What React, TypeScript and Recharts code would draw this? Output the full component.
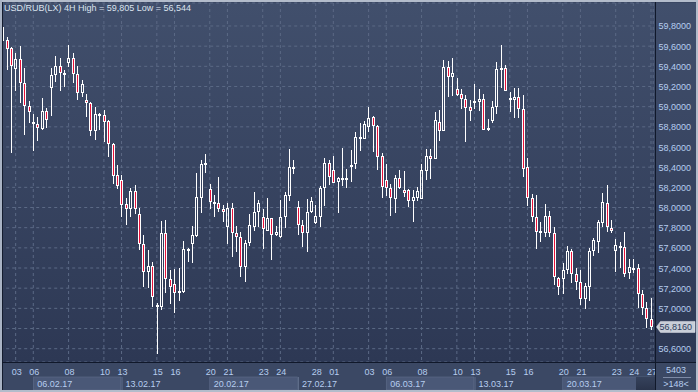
import React from 'react';
import { ComposedChart, Bar, XAxis, YAxis, CartesianGrid, ReferenceLine } from 'recharts';

const days = ['02.02.17','03.02.17','06.02.17','07.02.17','08.02.17','09.02.17','10.02.17','13.02.17','14.02.17','15.02.17','16.02.17','17.02.17','20.02.17','21.02.17','22.02.17','23.02.17','24.02.17','27.02.17','28.02.17','01.03.17','02.03.17','03.03.17','06.03.17','07.03.17','08.03.17','09.03.17','10.03.17','13.03.17','14.03.17','15.03.17','16.03.17','17.03.17','20.03.17','21.03.17','22.03.17','23.03.17','24.03.17','27.03.17'];
const labelledDays = ['03.02.17','06.02.17','08.02.17','10.02.17','13.02.17','15.02.17','16.02.17','20.02.17','21.02.17','23.02.17','24.02.17','28.02.17','01.03.17','03.03.17','06.03.17','08.03.17','10.03.17','13.03.17','15.03.17','16.03.17','20.03.17','21.03.17','23.03.17','24.03.17','27.03.17'];
const weekStarts = ['06.02.17','13.02.17','20.02.17','27.02.17','06.03.17','13.03.17','20.03.17'];
const priceTicks = [56.6,56.8,57.0,57.2,57.4,57.6,57.8,58.0,58.2,58.4,58.6,58.8,59.0,59.2,59.4,59.6,59.8];

const opens = [59.655,59.661,59.579,59.370,59.469,59.231,59.010,58.825,58.825,58.779,58.957,59.188,59.314,59.403,59.337,59.436,59.479,59.324,59.139,59.066,59.040,58.759,58.914,58.917,58.858,58.626,58.322,58.273,58.035,57.982,58.164,57.932,57.635,57.357,57.423,57.030,57.010,57.744,57.288,57.238,57.149,57.165,57.575,57.638,57.717,58.098,58.428,58.180,58.048,58.048,57.982,57.810,57.992,57.744,57.704,57.413,57.645,57.810,57.952,57.909,57.770,57.893,57.724,57.704,57.909,58.117,58.388,58.002,57.826,57.744,57.952,57.850,57.909,58.190,58.438,58.372,58.250,58.289,58.269,58.398,58.428,58.699,58.676,58.795,58.894,58.812,58.511,58.273,58.190,58.084,58.289,58.170,58.174,58.068,58.098,58.084,58.365,58.511,58.478,58.845,58.762,59.390,59.298,59.172,59.122,59.073,58.993,59.046,59.043,59.073,58.769,58.858,58.993,59.370,59.387,59.063,59.066,59.093,58.974,58.398,58.091,57.909,57.767,57.750,57.919,57.744,57.304,57.288,57.380,57.569,57.341,57.258,57.089,57.208,57.569,57.661,57.850,58.041,57.793,57.569,57.608,57.612,57.347,57.393,57.397,57.142,57.000,56.894];
const highs = [59.805,59.694,59.595,59.529,59.602,59.380,59.056,58.927,58.901,59.083,58.984,59.387,59.503,59.486,59.364,59.612,59.536,59.403,59.264,59.126,59.050,58.993,58.934,58.967,58.868,58.636,58.422,58.322,58.091,58.190,58.223,57.992,57.727,57.579,57.456,57.050,57.866,57.876,57.380,57.387,57.397,57.671,57.602,57.817,58.345,58.471,58.531,58.233,58.124,58.302,58.025,58.048,58.041,57.820,57.754,57.678,57.936,58.150,58.074,57.982,58.091,57.899,57.817,58.074,58.150,58.580,58.471,58.065,57.876,58.081,58.101,58.025,58.217,58.494,58.471,58.511,58.306,58.587,58.382,58.570,58.745,58.841,58.858,58.993,58.907,58.815,58.544,58.431,58.230,58.322,58.372,58.362,58.180,58.174,58.207,58.428,58.577,58.580,58.944,58.967,59.463,59.453,59.479,59.281,59.172,59.116,59.066,59.225,59.175,59.126,58.878,59.060,59.446,59.612,59.413,59.149,59.182,59.182,59.116,58.488,58.134,58.124,57.860,58.031,57.965,57.803,57.314,57.453,57.622,57.585,57.397,57.380,57.255,57.595,57.694,57.876,58.147,58.223,57.876,57.684,57.661,57.760,57.493,57.486,57.436,57.182,57.066,57.099];
const lows = [59.655,59.364,58.537,59.159,59.040,58.719,58.841,58.564,58.663,58.769,58.785,58.911,59.248,59.159,59.198,59.397,59.231,59.066,59.099,58.901,58.709,58.669,58.769,58.646,58.504,58.233,58.184,57.909,57.826,57.903,57.936,57.579,57.215,57.198,57.010,56.544,56.984,57.155,57.043,56.957,57.076,57.149,57.456,57.446,57.711,57.942,58.345,57.985,57.903,57.959,57.860,57.638,57.512,57.562,57.307,57.265,57.618,57.770,57.810,57.588,57.770,57.479,57.717,57.698,57.793,58.065,58.332,57.727,57.605,57.562,57.949,57.836,57.810,58.015,58.223,58.240,57.949,58.217,58.190,58.256,58.382,58.564,58.676,58.745,58.554,58.372,58.098,58.114,57.919,57.942,58.184,58.107,58.002,57.860,58.068,58.084,58.273,58.279,58.478,58.663,58.762,59.099,59.106,59.106,58.974,58.653,58.861,58.974,58.960,58.769,58.762,58.835,58.927,59.182,59.159,58.950,58.891,58.891,58.299,58.015,57.860,57.588,57.655,57.704,57.704,57.231,57.132,57.142,57.341,57.255,57.182,57.033,56.990,57.076,57.519,57.546,57.803,57.760,57.750,57.357,57.397,57.314,57.288,57.347,57.000,56.934,56.802,56.785];
const closes = [59.793,59.569,59.407,59.469,59.231,59.010,58.950,58.845,58.785,58.957,58.865,59.314,59.403,59.331,59.321,59.479,59.324,59.139,59.221,59.033,58.759,58.924,58.927,58.851,58.626,58.316,58.217,58.025,57.982,58.164,57.982,57.635,57.357,57.423,57.109,57.010,57.744,57.288,57.215,57.149,57.172,57.585,57.585,57.727,58.101,58.431,58.441,58.058,58.055,57.982,57.952,57.992,57.744,57.704,57.413,57.645,57.826,57.952,58.045,57.784,57.899,57.724,57.754,57.909,58.124,58.398,58.398,57.826,57.744,57.952,58.065,57.916,58.193,58.438,58.299,58.246,58.293,58.269,58.289,58.422,58.696,58.676,58.825,58.884,58.812,58.504,58.207,58.190,58.098,58.289,58.197,58.147,58.068,58.101,58.164,58.372,58.511,58.481,58.868,58.762,59.390,59.298,59.331,59.119,59.073,58.984,58.957,59.056,59.073,58.769,58.785,58.993,59.370,59.387,59.159,59.083,59.093,58.974,58.379,58.091,57.909,57.754,57.757,57.919,57.744,57.307,57.208,57.380,57.569,57.341,57.265,57.089,57.222,57.572,57.678,57.860,58.051,57.803,57.770,57.628,57.618,57.341,57.413,57.403,57.142,57.000,56.894,56.816];

const fmt = (v: number, d: number) => v.toFixed(d).replace('.', ',');
const lastClose = closes[closes.length - 1];

type Row = { key: string; open: number; high: number; low: number; close: number };
const rows: Row[] = [];
days.forEach((d, di) => {
  const slots = di === 0 ? [1, 2, 3] : di === days.length - 1 ? [0] : [0, 1, 2, 3];
  slots.forEach((s) => {
    const i = rows.length;
    rows.push({ key: `${d}#${s}`, open: opens[i], high: highs[i], low: lows[i], close: closes[i] });
  });
});

const RED = '#e8123a';
const AXIS_TEXT = '#b6cdef';
const FONT = '"Liberation Sans", Arial, sans-serif';

const Candle = (props: any) => {
  const { x, y, width, height, payload } = props;
  if (!payload) return null;
  const { open, high, low, close } = payload as Row;
  let top = y, h = height;
  if (h < 0) { top = y + h; h = -h; }
  const span = high - low;
  const toY = (v: number) => (span > 0 ? top + ((high - v) / span) * h : top);
  const cx = Math.floor(x + width / 2);
  const yH = Math.round(toY(high));
  const yL = Math.round(toY(low));
  const bTop = Math.round(toY(Math.max(open, close)));
  let bBot = Math.round(toY(Math.min(open, close)));
  if (bBot - bTop < 2) bBot = bTop + 2;
  const bear = close < open;
  return (
    <g>
      {yH < bTop && <line x1={cx + 0.5} x2={cx + 0.5} y1={yH} y2={bTop} stroke="#ffffff" strokeWidth={1} />}
      {yL > bBot && <line x1={cx + 0.5} x2={cx + 0.5} y1={bBot} y2={yL} stroke="#ffffff" strokeWidth={1} />}
      <rect x={cx - 0.5} y={bTop + 0.5} width={2} height={bBot - bTop - 1} fill={bear ? RED : 'none'} stroke="#ffffff" strokeWidth={1} />
    </g>
  );
};

const DayTick = (props: any) => {
  const { x, y, payload } = props;
  return (
    <text x={x + 1} y={y + 13} textAnchor="middle" fill={AXIS_TEXT} fontSize={9} fontFamily={FONT}>
      {String(payload.value).slice(0, 2)}
    </text>
  );
};

const WeekTick = (props: any) => {
  const { x, y, payload, index } = props;
  const boxed = index % 2 === 0;
  return (
    <g>
      {boxed && <rect x={x} y={y + 1} width={87.5} height={13} fill="#4a5877" stroke="#5f6d8b" strokeWidth={0.6} />}
      {!boxed && <line x1={x + 0.5} x2={x + 0.5} y1={y + 1} y2={y + 14} stroke="#5f6d8b" strokeWidth={1} />}
      <text x={x + 4} y={y + 11} fill={AXIS_TEXT} fontSize={9} fontFamily={FONT}>
        {String(payload.value).slice(0, 8)}
      </text>
    </g>
  );
};

const PriceTick = (props: any) => {
  const { y, payload } = props;
  if (Math.abs(payload.value - lastClose) < 0.06) return null;
  return (
    <text x={691} y={y + 3.5} textAnchor="end" fill={AXIS_TEXT} fontSize={9} fontFamily={FONT}>
      {fmt(payload.value, 4)}
    </text>
  );
};

const PriceTag = (props: any) => {
  const vb = props.viewBox || {};
  const yy = vb.y;
  const left = 656.5;
  return (
    <g>
      <path d={`M${left},${yy} L${left + 4},${yy - 5.5} L695,${yy - 5.5} L695,${yy + 5.5} L${left + 4},${yy + 5.5} Z`} fill="#c9ced8" stroke="#e8ebf0" strokeWidth={0.5} />
      <text x={692} y={yy + 3.5} textAnchor="end" fill="#2b3a5c" fontSize={9} fontFamily={FONT}>
        {fmt(lastClose, 4)}
      </text>
    </g>
  );
};

export default function App() {
  return (
    <div style={{ position: 'absolute', left: 0, top: 0, width: 698, height: 392, background: '#3a4763', overflow: 'hidden', fontFamily: FONT }}>
      <div style={{ position: 'absolute', left: 3, top: 3, width: 652, height: 359, background: 'linear-gradient(#414f6c, #2d3854)' }} />
      <div style={{ position: 'absolute', left: 656, top: 3, width: 40, height: 359, background: 'linear-gradient(#414f6c, #2d3854)' }} />
      <div style={{ position: 'absolute', left: 3, top: 363, width: 693, height: 27, background: '#3b4864' }} />
      <div style={{ position: 'absolute', left: 0, top: 0 }}>
        <ComposedChart width={698} height={392} data={rows} margin={{ top: 3, right: 0, left: 0.2, bottom: 0 }} barSize={3}>
          <CartesianGrid stroke="#5b6985" strokeDasharray="3 3" xAxisId="day" />
          <XAxis xAxisId="day" dataKey="key" type="category" ticks={labelledDays.map((d) => `${d}#0`)} interval={0} height={14} tickLine={false} axisLine={false} tickSize={0} tickMargin={0} tick={<DayTick />} />
          <XAxis xAxisId="week" dataKey="key" type="category" ticks={weekStarts.map((d) => `${d}#0`)} interval={0} height={16} tickLine={false} axisLine={false} tickSize={0} tickMargin={0} tick={<WeekTick />} />
          <YAxis orientation="right" width={44.8} domain={[56.468, 60.028]} allowDataOverflow ticks={priceTicks} interval={0} tickLine={false} axisLine={false} tick={<PriceTick />} />
          <Bar xAxisId="day" dataKey={(d: Row) => [d.low, d.high]} shape={<Candle />} isAnimationActive={false} />
          <ReferenceLine xAxisId="day" y={lastClose} stroke="none" label={<PriceTag />} />
        </ComposedChart>
      </div>
      {/* selection marker in the week strip */}
      <div style={{ position: 'absolute', left: 636, top: 377, width: 19, height: 13, background: 'linear-gradient(#36425c, #2a344b)' }} />
      {/* bottom-right panel */}
      <div style={{ position: 'absolute', left: 656, top: 363, width: 40, height: 27, background: '#3b4864' }} />
      {/* frame lines */}
      <div style={{ position: 'absolute', left: 0, top: 0, width: 698, height: 2, background: '#b3bccb' }} />
      <div style={{ position: 'absolute', left: 0, top: 0, width: 2, height: 392, background: '#a9b3c4' }} />
      <div style={{ position: 'absolute', left: 2, top: 2, width: 1, height: 388, background: '#141c2e' }} />
      <div style={{ position: 'absolute', left: 696, top: 0, width: 2, height: 392, background: '#b3bccb' }} />
      <div style={{ position: 'absolute', left: 0, top: 390, width: 698, height: 2, background: '#b3bccb' }} />
      <div style={{ position: 'absolute', left: 655, top: 2, width: 1, height: 388, background: '#10182a' }} />
      <div style={{ position: 'absolute', left: 2, top: 362, width: 694, height: 1, background: '#10182a' }} />
      <div style={{ position: 'absolute', left: 4, top: 3, fontSize: 9, lineHeight: '10px', color: '#dbe3ee', whiteSpace: 'nowrap' }}>
        USD/RUB(LX) 4H High = 59,805 Low = 56,544
      </div>
      <div style={{ position: 'absolute', left: 656, top: 365, width: 40, textAlign: 'center', fontSize: 9, lineHeight: '10px', color: AXIS_TEXT }}>5403</div>
      <div style={{ position: 'absolute', left: 663, top: 377, width: 28, height: 1, background: '#7d8aa6' }} />
      <div style={{ position: 'absolute', left: 656, top: 379, width: 40, textAlign: 'center', fontSize: 9, lineHeight: '10px', color: AXIS_TEXT }}>&gt;148&lt;</div>
    </div>
  );
}
